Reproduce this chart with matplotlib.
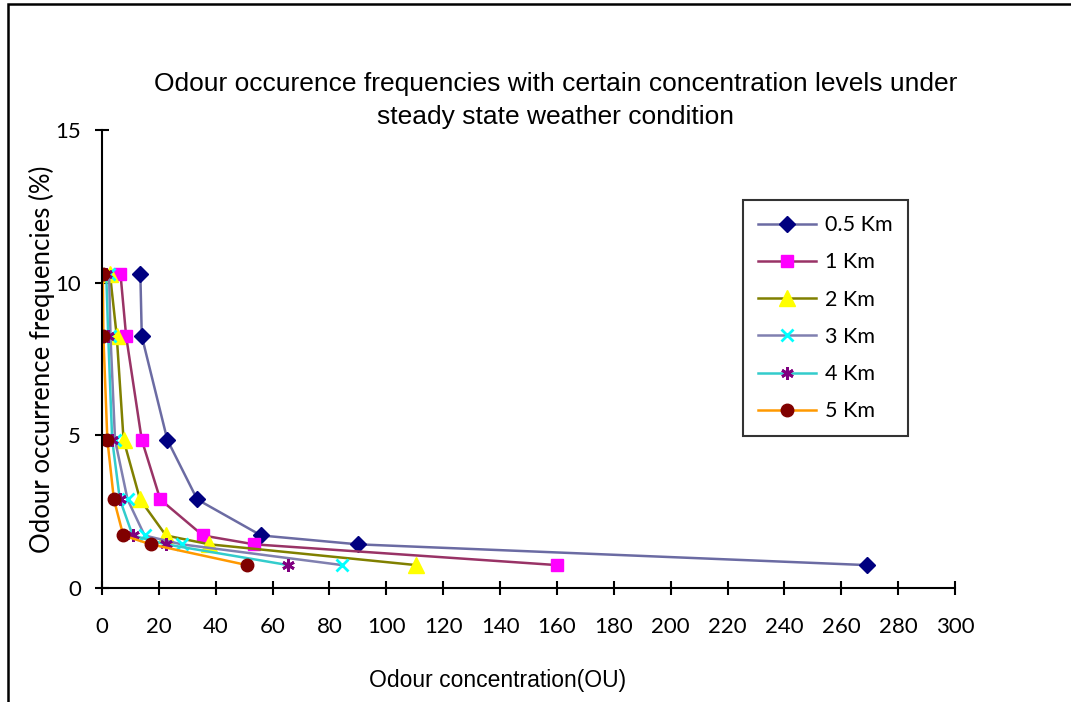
from matplotlib import pyplot as plt
from matplotlib.patches import Rectangle

# frequencies (%) shared by every distance
freq = [10.3, 8.25, 4.85, 2.9, 1.72, 1.43, 0.75]

# odour concentration (OU) per distance
conc_05km = [13.5, 14.0, 23.0, 33.5, 56.0, 90.0, 269.0]
conc_1km = [6.5, 8.5, 14.0, 20.5, 35.5, 53.5, 160.0]
conc_2km = [2.8, 5.2, 7.6, 13.4, 22.5, 37.8, 110.5]
conc_3km = [2.5, 3.0, 4.6, 9.0, 15.0, 28.0, 84.5]
conc_4km = [1.5, 2.2, 3.6, 6.3, 10.8, 22.5, 65.5]
conc_5km = [0.3, 0.5, 1.9, 4.2, 7.5, 17.2, 51.0]

labels = ["0.5 Km", "1 Km", "2 Km", "3 Km", "4 Km", "5 Km"]

styles = [
    dict(color="#6B6BA3", marker="D", mfc="#000080", mec="#000080", ms=8),
    dict(color="#993366", marker="s", mfc="#FF00FF", mec="#FF00FF", ms=9),
    dict(color="#808000", marker="^", mfc="#FFFF00", mec="#FFFF00", ms=11),
    dict(color="#8080B0", marker="x", mfc="#00FFFF", mec="#00FFFF", ms=8, mew=2),
    dict(color="#33CCCC", marker=(6, 2, 0), mfc="#800080", mec="#800080", ms=9, mew=2),
    dict(color="#FF9900", marker="o", mfc="#800000", mec="#800000", ms=9),
]

body = ["Lato", "DejaVu Sans"]
narrow = ["Liberation Sans Narrow", "Liberation Sans", "DejaVu Sans"]

fig = plt.figure(figsize=(10.71, 7.02), dpi=100)
ax = fig.add_axes([0.0952, 0.1624, 0.7965, 0.6524])

series = [conc_05km, conc_1km, conc_2km, conc_3km, conc_4km, conc_5km]
for xs, lab, st in zip(series, labels, styles):
    ax.plot(xs, freq, label=lab, lw=1.8, **st)

ax.set_xlim(0, 300)
ax.set_ylim(0, 15)
ax.set_xticks(range(0, 301, 20))
ax.set_yticks([0, 5, 10, 15])
ax.spines["top"].set_visible(False)
ax.spines["right"].set_visible(False)
ax.spines["left"].set_linewidth(1.5)
ax.spines["bottom"].set_linewidth(1.5)
ax.tick_params(direction="inout", length=10, width=1.5, labelsize=16, pad=16)
ax.tick_params(axis="y", pad=10)
for t in ax.get_xticklabels() + ax.get_yticklabels():
    t.set_family(body)

ax.set_xlabel("Odour concentration(OU)", family=narrow, fontsize=16.5)
ax.xaxis.set_label_coords(0.464, -0.177)
ax.set_ylabel("Odour occurrence frequencies (%)", family=body, fontsize=18.5)
ax.yaxis.set_label_coords(-0.055, 0.5)
ax.set_title("Odour occurence frequencies with certain concentration levels under\nsteady state weather condition",
             family=narrow, fontsize=19, linespacing=1.5, x=0.532, pad=4)

leg = ax.legend(loc="upper left", bbox_to_anchor=(0.7515, 0.847), frameon=True, fancybox=False,
                edgecolor="black", borderpad=0.7, labelspacing=0.8, handlelength=2.7,
                handletextpad=0.4, borderaxespad=0,
                prop={"family": body, "size": 15.5})
leg.get_frame().set_linewidth(1.5)

# outer chart border
fig.patches.append(Rectangle((8 / 1071, -0.1), 1.2, 1.1 - 4 / 702, transform=fig.transFigure,
                             fill=False, edgecolor="black", linewidth=1.8))

plt.savefig("out.png", dpi=100)
